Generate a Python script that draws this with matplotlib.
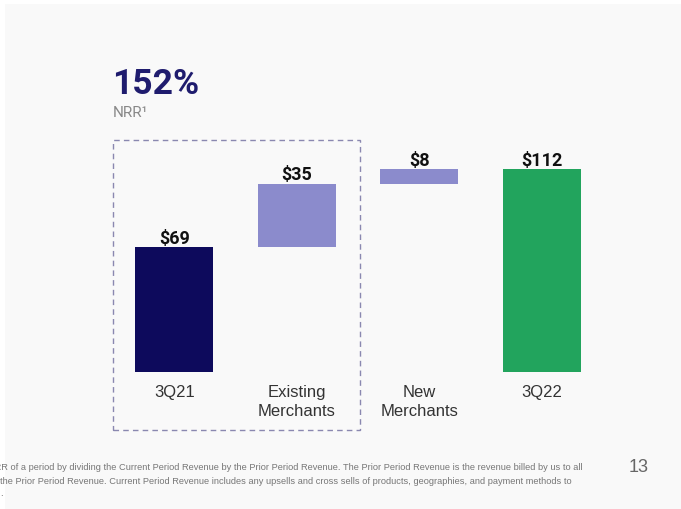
import matplotlib
matplotlib.use("Agg")
import matplotlib.pyplot as plt
from matplotlib.patches import Rectangle

# Revenue bridge data ($M)
categories = ["3Q21", "Existing\nMerchants", "New\nMerchants", "3Q22"]
values = [69, 35, 8, 112]
bottoms = [0, 69, 104, 0]
labels = ["$69", "$35", "$8", "$112"]
colors = ["#0d0a5c", "#8b8bcc", "#8b8bcc", "#22a45d"]

W, H = 681, 509
fig = plt.figure(figsize=(W / 100, H / 100), dpi=100)
fig.patch.set_facecolor("white")
# slide background
fig.patches.append(Rectangle((5 / W, 0), 1, 1 - 4 / H, transform=fig.transFigure,
                             facecolor="#f9f9f9", edgecolor="none", zorder=-5))

ax = fig.add_axes([113 / W, (H - 372) / H, 490 / W, 232 / H])
ax.set_facecolor("none")
ax.set_zorder(2)
x = range(len(categories))
ax.bar(x, values, bottom=bottoms, width=0.64, color=colors)
for xi, v, b, lab in zip(x, values, bottoms, labels):
    ax.annotate(lab, (xi, v + b), xytext=(0, 8), textcoords="offset pixels",
                ha="center", va="center", fontsize=13, fontweight="bold",
                family="Roboto", color="#111111")
ax.set_xlim(-0.5, 3.5)
ax.set_ylim(0, 128)
ax.axis("off")
for xi, cat in zip(x, categories):
    ax.annotate(cat, (xi, 0), xytext=(0, -13), textcoords="offset pixels",
                ha="center", va="top", fontsize=12, family="Liberation Sans",
                color="#333333", linespacing=1.35, annotation_clip=False)

# dashed frame around the NRR components
fig.patches.append(Rectangle((113 / W, (H - 430) / H), 247 / W, 290 / H,
                             transform=fig.transFigure, fill=False,
                             edgecolor="#8a88b0", linewidth=1.0,
                             linestyle=(0, (4, 3)), zorder=3))

fig.text(112 / W, (H - 85) / H, "152%", fontsize=25.5, fontweight="bold",
         family="Roboto", color="#1f1c6e", va="center", ha="left")
fig.text(113 / W, (H - 113) / H, "NRR\u00b9", fontsize=11, family="Roboto",
         color="#888888", va="center", ha="left")

foot = [
    "NRR of a period by dividing the Current Period Revenue by the Prior Period Revenue. "
    "The Prior Period Revenue is the revenue billed by us to all",
    "the Prior Period Revenue. Current Period Revenue includes any upsells and cross sells "
    "of products, geographies, and payment methods to",
    ".",
]
fig.text(-12 / W, (H - 468) / H, foot[0], fontsize=6.7, family="Liberation Sans",
         color="#777777", va="center", ha="left")
fig.text(0 / W, (H - 481) / H, foot[1], fontsize=6.7, family="Liberation Sans",
         color="#777777", va="center", ha="left")
fig.text(0 / W, (H - 494) / H, foot[2], fontsize=6.7, family="Liberation Sans",
         color="#777777", va="center", ha="left")
fig.text(639 / W, (H - 468) / H, "13", fontsize=13, family="Liberation Sans",
         color="#666666", va="center", ha="center")

fig.savefig("out.png", dpi=100)
